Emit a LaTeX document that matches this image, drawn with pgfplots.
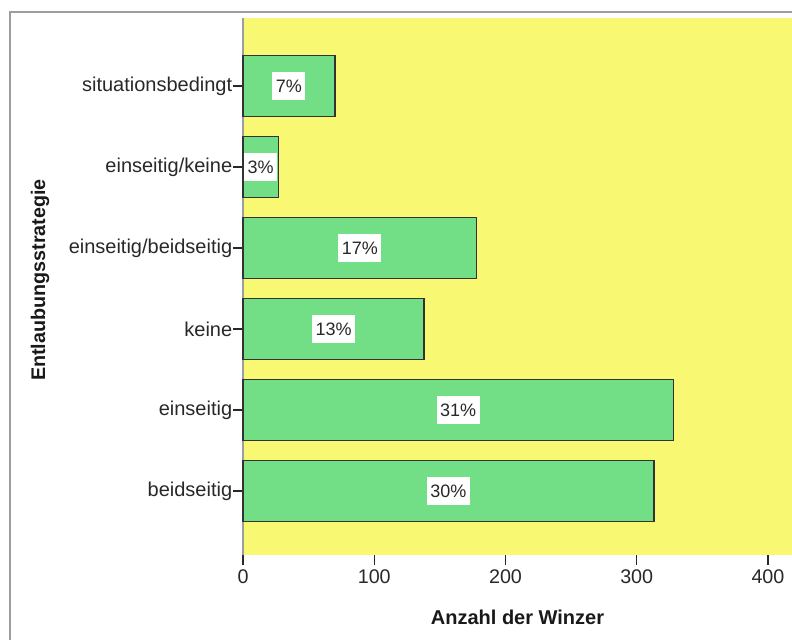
\documentclass[border=0pt]{standalone}
\usepackage{fontspec}
\setmainfont{Liberation Sans}
\usepackage{pgfplots}
\usepackage{pgfplotstable}
\pgfplotsset{compat=1.18}

\definecolor{plotyellow}{RGB}{249,248,114}
\definecolor{bargreen}{RGB}{114,222,134}
\definecolor{framegray}{RGB}{158,158,158}
\definecolor{textgray}{RGB}{40,40,40}

% pos: 0 = beidseitig (bottom) ... 5 = situationsbedingt (top)
\pgfplotstableread{
pos n   pct
0   313 30
1   328 31
2   138 13
3   178 17
4   27  3
5   70  7
}\datatable

\begin{document}
\begin{tikzpicture}
% 1 px of the reference = 0.75pt; axis origin at px (243,555)
\useasboundingbox (-182.25pt,-63pt) rectangle (411.75pt,416.25pt);
\draw[framegray, line width=1.5pt] (-174.75pt,-200pt) -- (-174.75pt,407.25pt) -- (700pt,407.25pt);
\begin{axis}[
    at={(0pt,0pt)}, anchor=south west,
    scale only axis,
    width=411.75pt, height=402.75pt,
    xmin=0, xmax=418.3,
    ymin=-0.79, ymax=5.84,
    axis background/.style={fill=plotyellow},
    axis line style={draw=none},
    xtick={0,100,200,300,400},
    ytick={0,1,2,3,4,5},
    yticklabels={beidseitig,einseitig,keine,einseitig/beidseitig,einseitig/keine,situationsbedingt},
    xtick pos=lower, ytick pos=left,
    tick align=outside,
    major tick length=7.5pt,
    tick style={textgray, line width=0.9pt},
    x tick label style={font=\fontsize{14.8}{17}\selectfont, text=textgray},
    y tick label style={font=\fontsize{15}{17}\selectfont, text=textgray, inner xsep=0.4pt},
    /pgf/number format/assume math mode=true,
    xlabel={Anzahl der Winzer},
    ylabel={Entlaubungsstrategie},
    every axis x label/.style={at={([yshift=-46.5pt]axis description cs:0.5,0)}, anchor=center,
        font=\bfseries\fontsize{15}{17}\selectfont, text=black!90},
    every axis y label/.style={at={([xshift=-152.25pt]axis description cs:0,0.512)}, anchor=center, rotate=90,
        font=\bfseries\fontsize{14.8}{17}\selectfont, text=black!90},
    clip=false,
]
\draw[framegray, line width=0.9pt] (rel axis cs:0,0) -- (rel axis cs:0,1);
\addplot[xbar, bar width=45.75pt, fill=bargreen, draw=black!80, line width=1.2pt]
    table[x=n, y=pos] {\datatable};
\addplot[only marks, mark=none, point meta=explicit,
    nodes near coords={\pgfmathprintnumber{\pgfplotspointmeta}\%},
    nodes near coords style={fill=white, anchor=center, inner xsep=2.6pt, minimum height=21pt,
        font=\fontsize{13.5}{15}\selectfont, text=textgray}]
    table[x expr=\thisrow{n}/2, y=pos, meta=pct] {\datatable};
\end{axis}
\end{tikzpicture}
\end{document}
